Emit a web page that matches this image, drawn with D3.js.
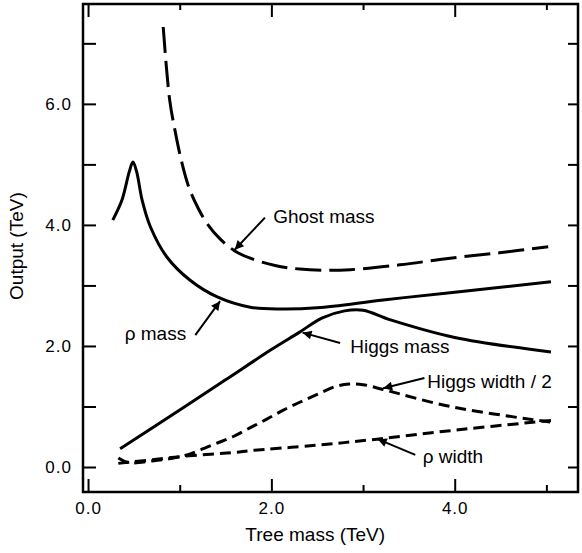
<!DOCTYPE html>
<html>
<head>
<meta charset="utf-8">
<script src="https://cdn.jsdelivr.net/npm/d3@7"></script>
<style>
  body { margin: 0; background: #fff; }
  svg { display: block; font-family: "Liberation Sans", Arial, sans-serif; }
</style>
</head>
<body>
<div id="chart"></div>
<script>
// values (TeV)
const ghostMass = [[0.82,7.27],[0.89,6.07],[0.95,5.55],[1.02,5.05],[1.1,4.62],[1.2,4.28],[1.3,4.02],[1.44,3.77],[1.6,3.57],[1.77,3.45],[2.04,3.33],[2.31,3.27],[2.6,3.25],[2.86,3.26],[3.4,3.34],[3.95,3.45],[4.49,3.54],[5.02,3.64]];
const rhoMass = [[0.27,4.08],[0.37,4.41],[0.45,4.88],[0.49,5.04],[0.53,4.88],[0.59,4.41],[0.68,3.97],[0.86,3.47],[1.11,3.09],[1.41,2.81],[1.77,2.64],[2.1,2.61],[2.5,2.63],[3.22,2.76],[3.95,2.88],[5.05,3.06]];
const higgsMass = [[0.35,0.30],[1.0,0.94],[1.5,1.44],[2.0,1.94],[2.3,2.22],[2.55,2.46],[2.8,2.58],[3.0,2.59],[3.3,2.43],[4.0,2.14],[5.05,1.90]];
const higgsWidth = [[0.33,0.15],[0.45,0.07],[0.7,0.10],[0.9,0.14],[1.06,0.19],[1.22,0.28],[1.4,0.39],[1.58,0.50],[1.77,0.65],[1.95,0.79],[2.13,0.94],[2.31,1.07],[2.5,1.20],[2.7,1.33],[2.85,1.37],[3.0,1.36],[3.22,1.28],[3.95,1.00],[5.05,0.74]];
const rhoWidth = [[0.33,0.06],[0.45,0.08],[0.7,0.12],[1.06,0.18],[1.6,0.24],[1.77,0.27],[2.5,0.36],[3.15,0.46],[3.95,0.60],[5.05,0.77]];

const xMajor = [0, 2, 4], xMinor = [1, 3, 5];
const yTicks = [0, 1, 2, 3, 4, 5, 6, 7], yLabelled = [0, 2, 4, 6];

// label, text x, text y, arrow tail, arrow tip
const notes = [
  ["Ghost mass", 2.02, 4.03, [1.93, 4.12], [1.60, 3.59]],
  ["ρ mass", 0.40, 2.10, [1.17, 2.18], [1.44, 2.74]],
  ["Higgs mass", 2.86, 1.88, [2.75, 2.05], [2.34, 2.22]],
  ["Higgs width / 2", 3.70, 1.31, [3.67, 1.47], [3.22, 1.30]],
  ["ρ width", 3.65, 0.07, [3.57, 0.20], [3.16, 0.46]]
];

const W = 582, H = 553;
const plotL = 83, plotR = 578, plotT = 4, plotB = 492;

const x = d3.scaleLinear().domain([-0.055, 5.345]).range([plotL, plotR]);
const y = d3.scaleLinear().domain([-0.413, 7.65]).range([plotB, plotT]);

const svg = d3.select("#chart").append("svg")
    .attr("width", W).attr("height", H);

svg.append("defs").append("marker")
    .attr("id", "head")
    .attr("viewBox", "0 0 10 10")
    .attr("refX", 10).attr("refY", 5)
    .attr("markerWidth", 16).attr("markerHeight", 9)
    .attr("markerUnits", "userSpaceOnUse")
    .attr("orient", "auto")
  .append("path")
    .attr("d", "M0,0L10,5L0,10Z")
    .attr("fill", "#000");

const line = d3.line()
    .x(d => x(d[0])).y(d => y(d[1]))
    .curve(d3.curveCatmullRom.alpha(0.5));

const curves = [
  [ghostMass, "26,8"],
  [rhoMass, null],
  [higgsMass, null],
  [higgsWidth, "11,6"],
  [rhoWidth, "11,6"]
];

svg.selectAll("path.curve")
  .data(curves)
  .enter().append("path")
    .attr("class", "curve")
    .attr("d", d => line(d[0]))
    .attr("fill", "none")
    .attr("stroke", "#000")
    .attr("stroke-width", 3)
    .attr("stroke-dasharray", d => d[1]);

// axes, ticks point inward
function styleAxis(g) {
  g.select(".domain").remove();
  g.selectAll(".tick line").attr("stroke", "#000").attr("stroke-width", 2);
  g.selectAll(".tick text")
    .attr("fill", "#000")
    .style("font-size", "17px")
    .style("letter-spacing", "1px");
}

svg.append("g").attr("transform", `translate(0,${plotB})`)
  .call(d3.axisBottom(x).tickValues(xMajor).tickSize(-13).tickPadding(10).tickFormat(d3.format(".1f")))
  .call(styleAxis);
svg.append("g").attr("transform", `translate(0,${plotB})`)
  .call(d3.axisBottom(x).tickValues(xMinor).tickSize(-7).tickFormat(""))
  .call(styleAxis);
svg.append("g").attr("transform", `translate(0,${plotT})`)
  .call(d3.axisTop(x).tickValues(xMajor).tickSize(-13).tickFormat(""))
  .call(styleAxis);
svg.append("g").attr("transform", `translate(0,${plotT})`)
  .call(d3.axisTop(x).tickValues(xMinor).tickSize(-6).tickFormat(""))
  .call(styleAxis);
svg.append("g").attr("transform", `translate(${plotL},0)`)
  .call(d3.axisLeft(y).tickValues(yTicks).tickSize(-13).tickPadding(11)
    .tickFormat(d => yLabelled.includes(d) ? d3.format(".1f")(d) : ""))
  .call(styleAxis);
svg.append("g").attr("transform", `translate(${plotR},0)`)
  .call(d3.axisRight(y).tickValues(yTicks).tickSize(-10).tickFormat(""))
  .call(styleAxis);

svg.append("rect")
    .attr("x", plotL).attr("y", plotT)
    .attr("width", plotR - plotL).attr("height", plotB - plotT)
    .attr("fill", "none").attr("stroke", "#000").attr("stroke-width", 2.5);

svg.append("text")
    .attr("x", (x(0) + x(5)) / 2 - 2).attr("y", 541)
    .attr("text-anchor", "middle")
    .style("font-size", "19px")
    .text("Tree mass (TeV)");

svg.append("text")
    .attr("transform", `translate(23,${y(3.65)}) rotate(-90)`)
    .attr("text-anchor", "middle")
    .style("font-size", "19px")
    .text("Output (TeV)");

// annotations
const ann = svg.selectAll("g.note").data(notes).enter().append("g").attr("class", "note");
ann.append("line")
    .attr("x1", d => x(d[3][0])).attr("y1", d => y(d[3][1]))
    .attr("x2", d => x(d[4][0])).attr("y2", d => y(d[4][1]))
    .attr("stroke", "#000").attr("stroke-width", 2)
    .attr("marker-end", "url(#head)");
ann.append("text")
    .attr("x", d => x(d[1])).attr("y", d => y(d[2]))
    .style("font-size", "19px")
    .text(d => d[0]);
</script>
</body>
</html>
